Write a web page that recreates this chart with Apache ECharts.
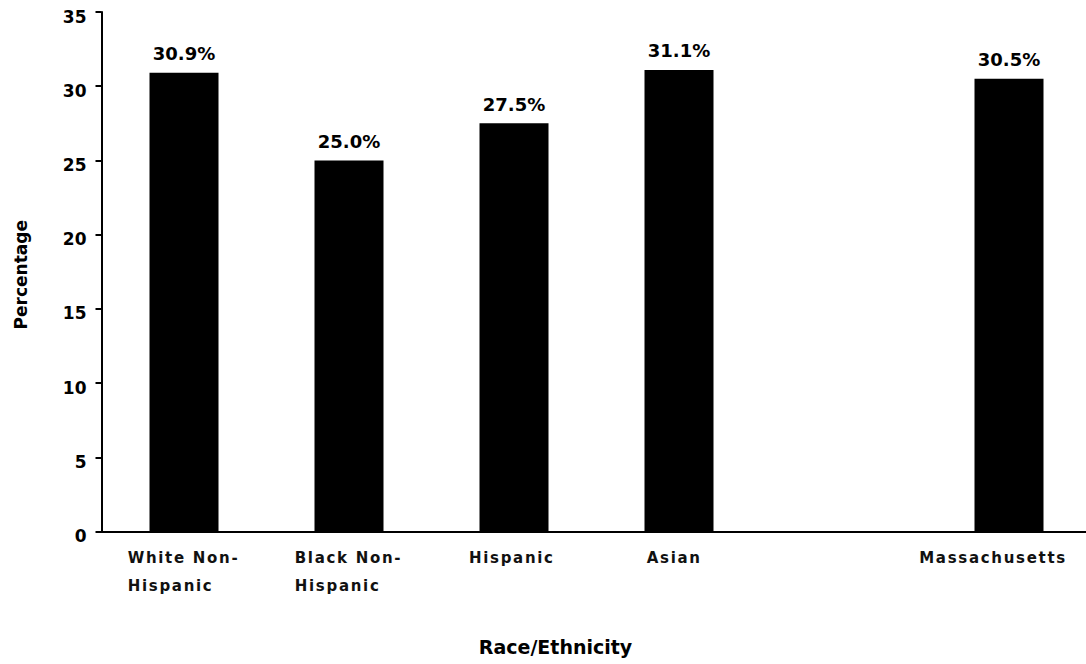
<!DOCTYPE html>
<html>
<head>
<meta charset="utf-8">
<script src="https://cdn.jsdelivr.net/npm/echarts@6/dist/echarts.min.js"></script>
<style>
html,body{margin:0;padding:0;background:#fff;}
#c{width:1086px;height:664px;}
#c svg text[style*="Verdana"]{letter-spacing:1.7px;}
</style>
</head>
<body>
<div id="c"></div>
<script>
const categories = ['White Non-\nHispanic', 'Black Non-\nHispanic', 'Hispanic', 'Asian', '', 'Massachusetts'];
const values = [30.9, 25.0, 27.5, 31.1, null, 30.5];
const yMin = 0, yMax = 35, yStep = 5;
const xTitle = 'Race/Ethnicity';
const yTitle = 'Percentage';

const FONT = "'DejaVu Sans', sans-serif";
const XFONT = "'DejaVu Sans', Verdana";

const chart = echarts.init(document.getElementById('c'), null, {renderer: 'svg'});
chart.setOption({
  animation: false,
  backgroundColor: '#ffffff',
  grid: {left: 101.5, width: 990, top: 12, bottom: 132.5, containLabel: false, outerBoundsMode: 'none'},
  xAxis: {
    type: 'category',
    data: categories,
    name: xTitle,
    nameLocation: 'middle',
    nameGap: 106,
    nameTextStyle: {fontFamily: FONT, fontWeight: 'bold', fontSize: 19, color: '#000', padding: [0, 82, 0, 0]},
    axisLine: {show: true, lineStyle: {color: '#000', width: 2}},
    axisTick: {show: false},
    splitLine: {show: false},
    axisLabel: {
      interval: 0,
      margin: 12,
      formatter: function (v) {
        if (!v) return '';
        const key = v === 'Massachusetts' ? 'm' : 'a';
        return v.split('\n').map(function (s) { return '{' + key + '|' + s + '}'; }).join('\n');
      },
      rich: {
        a: {fontFamily: XFONT, fontWeight: 'bold', fontSize: 15, color: '#111', lineHeight: 28, align: 'left', padding: [0, 18, 0, 0]},
        m: {fontFamily: XFONT, fontWeight: 'bold', fontSize: 15, color: '#111', lineHeight: 28, align: 'left', padding: [0, 54, 0, 0]}
      }
    }
  },
  yAxis: {
    type: 'value',
    min: yMin,
    max: yMax,
    interval: yStep,
    name: yTitle,
    nameLocation: 'middle',
    nameGap: 72,
    nameRotate: 90,
    nameTextStyle: {fontFamily: FONT, fontWeight: 'bold', fontSize: 17, color: '#000', padding: [0, 6, 0, 0]},
    axisLine: {show: true, lineStyle: {color: '#000', width: 2}},
    axisTick: {show: true, inside: false, length: 6, lineStyle: {color: '#000', width: 2}},
    splitLine: {show: false},
    axisLabel: {margin: 15, fontFamily: FONT, fontWeight: 'bold', fontSize: 17, color: '#000', verticalAlign: 'top', lineHeight: 9}
  },
  series: [{
    type: 'bar',
    data: values,
    barWidth: 69,
    itemStyle: {color: '#000'},
    label: {
      show: true,
      position: 'top',
      distance: 10,
      fontFamily: FONT,
      fontWeight: 'bold',
      fontSize: 18,
      color: '#000',
      formatter: function (p) { return p.value == null ? '' : p.value.toFixed(1) + '%'; }
    }
  }]
});
</script>
</body>
</html>
